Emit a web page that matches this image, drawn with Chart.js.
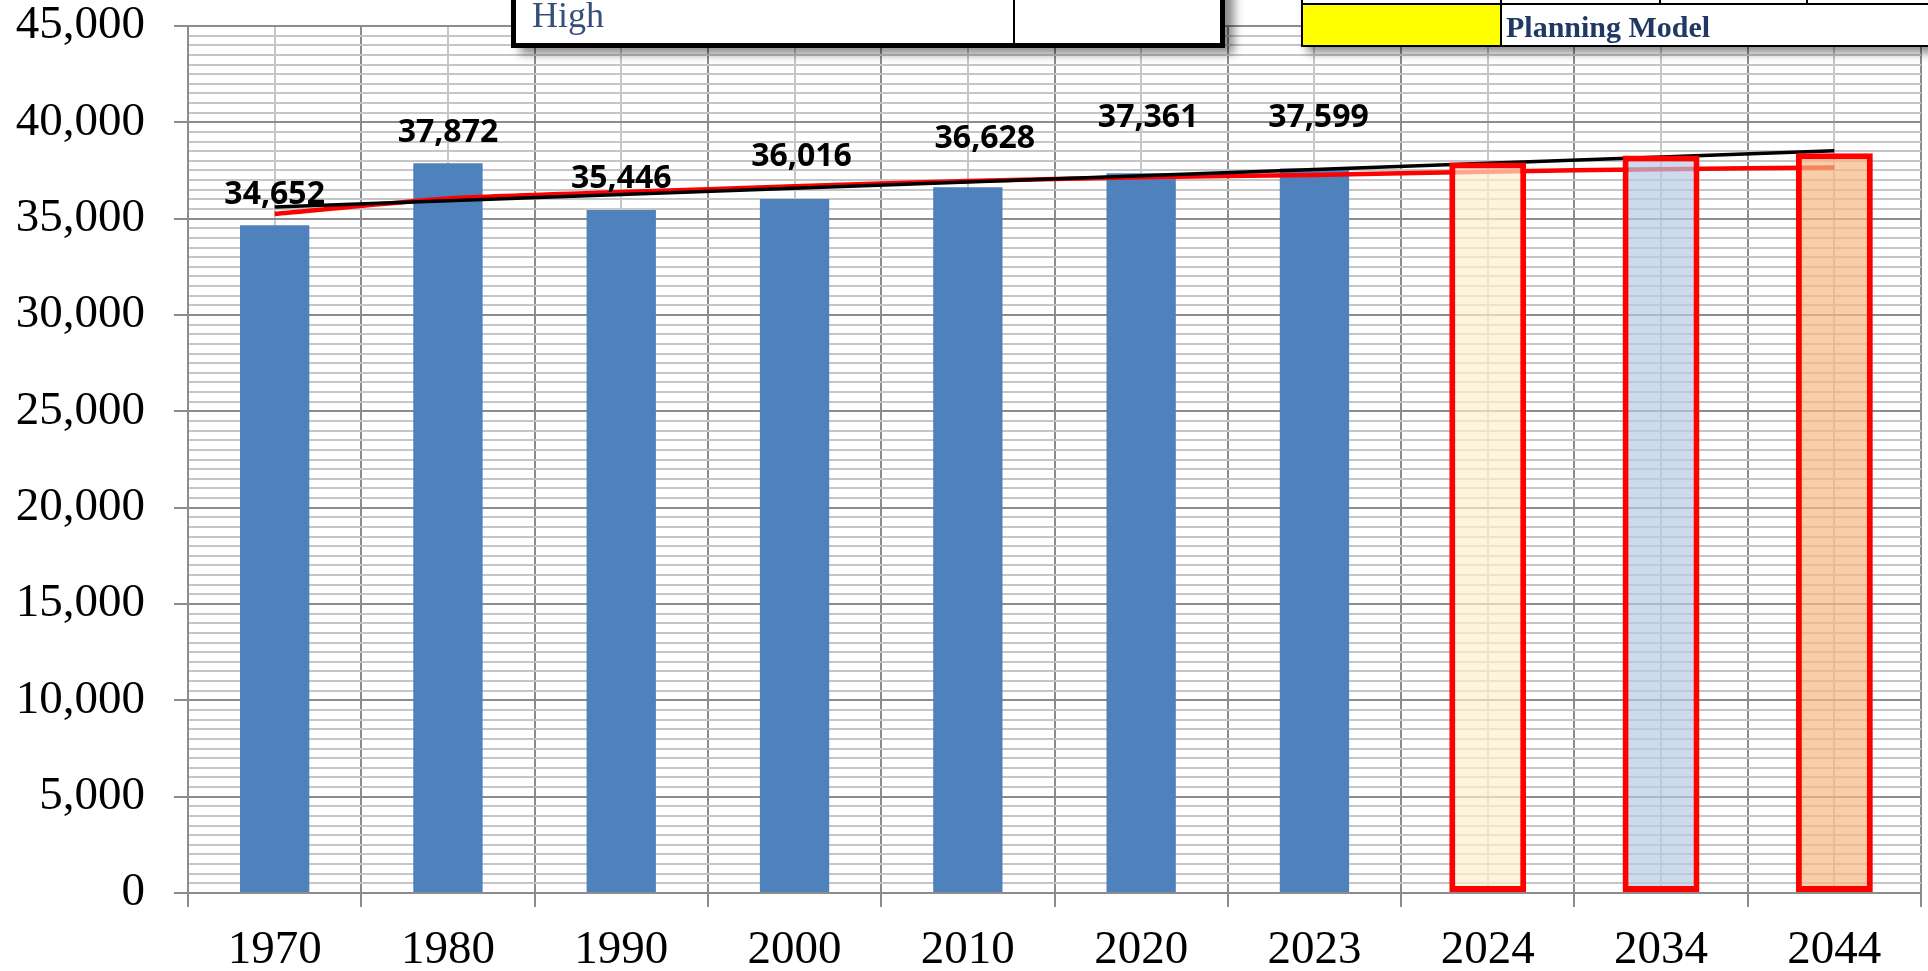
<!DOCTYPE html>
<html>
<head>
<meta charset="utf-8">
<title>Population and projections</title>
<script src="https://cdn.jsdelivr.net/npm/chart.js@4.4.1/dist/chart.umd.min.js"></script>
<style>
  html, body { margin: 0; padding: 0; background: #fff; overflow: hidden; }
  #wrap { position: relative; width: 1928px; height: 971px; }
  #chart { position: absolute; left: 0; top: 0; }
  .box { position: absolute; background: #fff; box-sizing: border-box; }
  .line { position: absolute; background: #000; }

  /* scenario box (top middle) */
  #boxHigh { left: 511px; top: -20px; width: 714px; height: 68px; border: 5px solid #000;
             box-shadow: 9px 6px 9px rgba(0,0,0,0.45); }
  #boxHigh .txt { position: absolute; left: 16px; top: 12px; font: 36px/36px "Liberation Serif", serif; color: #34507a; }

  /* key box (top right) */
  #boxKey { left: 1301px; top: -30px; width: 700px; height: 77px; border: 2px solid #000;
            box-shadow: 6px 6px 9px rgba(0,0,0,0.45); }
  #boxKey .swatch { position: absolute; left: 0; top: 33px; width: 197px; height: 40px; background: #ffff00; }
  #boxKey .txt { position: absolute; left: 203px; top: 40px; font: bold 30px/30px "Liberation Serif", serif; color: #1f3864; }
</style>
</head>
<body>
<div id="wrap">
  <canvas id="chart" width="1928" height="971"></canvas>

  <div class="box" id="boxHigh">
    <div class="line" style="left:497px; top:0; bottom:0; width:2px;"></div>
    <div class="txt">High</div>
  </div>

  <div class="box" id="boxKey">
    <div class="line" style="left:0; right:0; top:31px; height:2px;"></div>
    <div class="line" style="left:356px; top:0; height:31px; width:2px;"></div>
    <div class="line" style="left:503px; top:0; height:31px; width:2px;"></div>
    <div class="swatch"></div>
    <div class="line" style="left:197px; top:0; bottom:0; width:2px;"></div>
    <div class="txt">Planning Model</div>
  </div>
</div>

<script>
// categories
const years = ['1970', '1980', '1990', '2000', '2010', '2020', '2023', '2024', '2034', '2044'];

// census counts (labelled blue bars)
const censusPop = [34652, 37872, 35446, 36016, 36628, 37361, 37599, null, null, null];

// projected values (outlined bars)
const projectedPop = [null, null, null, null, null, null, null, 37920, 38280, 38400];

// trend lines
const linearTrend = [35600, 35925, 36250, 36575, 36900, 37225, 37550, 37875, 38200, 38525];
const logTrend = [35250, 36050, 36380, 36680, 36960, 37150, 37270, 37440, 37570, 37660];

const serif = '"Liberation Serif", "Times New Roman", serif';
const majorGrid = '#8c8c8c';
const minorGrid = '#c6c6c6';
const fmt = v => new Intl.NumberFormat('en-US').format(v);

// value labels over the census bars (nudged like in the original sheet)
const barLabels = {
    id: 'barLabels',
    afterDatasetsDraw(chart, args, opts) {
        const meta = chart.getDatasetMeta(0);
        const ctx = chart.ctx;
        ctx.save();
        ctx.font = opts.font;
        ctx.fillStyle = '#000';
        ctx.textAlign = 'center';
        ctx.textBaseline = 'alphabetic';
        meta.data.forEach((bar, i) => {
            const v = censusPop[i];
            if (v == null) return;
            const s = opts.shift[i] || [0, 21];
            ctx.fillText(fmt(v), bar.x + s[0], bar.y - s[1]);
        });
        ctx.restore();
    }
};

new Chart(document.getElementById('chart'), {
    data: {
        labels: years,
        datasets: [
            {
                type: 'bar', label: 'Census', data: censusPop,
                backgroundColor: '#4f81bd', grouped: false,
                barPercentage: 0.4, categoryPercentage: 1, order: 3
            },
            {
                type: 'line', label: 'Linear trend', data: linearTrend,
                borderColor: '#000', borderWidth: 3.5, pointRadius: 0, tension: 0, order: 1
            },
            {
                type: 'line', label: 'Log trend', data: logTrend,
                borderColor: '#ff0000', borderWidth: 4.5, pointRadius: 0, tension: 0.2, order: 2
            },
            {
                type: 'bar', label: 'Projection', data: projectedPop,
                backgroundColor: ['transparent', 'transparent', 'transparent', 'transparent', 'transparent', 'transparent', 'transparent',
                    'rgba(254,238,204,0.7)', 'rgba(183,203,227,0.7)', 'rgba(247,184,129,0.7)'],
                borderColor: '#ff0000', borderWidth: 6, borderSkipped: false,
                grouped: false, barPercentage: 0.444, categoryPercentage: 1, order: 0
            }
        ]
    },
    options: {
        responsive: false,
        animation: false,
        devicePixelRatio: 1,
        layout: { padding: { top: 26, right: 7, left: 0, bottom: 0 } },
        plugins: {
            legend: { display: false },
            tooltip: { enabled: false },
            barLabels: {
                font: 'bold 32px "Open Sans", "DejaVu Sans", sans-serif',
                shift: [[0, 21], [0, 21], [0, 22], [7, 33], [17, 39], [7, 46], [4, 42]]
            }
        },
        scales: {
            x: {
                type: 'category', offset: true,
                grid: { offset: true, color: majorGrid, lineWidth: 2, tickLength: 14, tickColor: majorGrid },
                border: { color: majorGrid, width: 2 },
                ticks: { color: '#000', font: { family: serif, size: 47, lineHeight: 1 }, padding: 20, maxRotation: 0, autoSkip: false },
                afterFit(s) { s.height = 78; }
            },
            x2: {
                type: 'category', labels: years, offset: true, position: 'top',
                grid: { offset: false, color: minorGrid, lineWidth: 2, drawTicks: false },
                border: { display: false },
                ticks: { display: false },
                afterFit(s) { s.height = 0; }
            },
            y: {
                min: 0, max: 45000,
                ticks: {
                    stepSize: 500, autoSkip: false, color: '#000', padding: 29,
                    font: { family: serif, size: 47, lineHeight: 1 },
                    callback: v => v % 5000 === 0 ? fmt(v) : ''
                },
                grid: {
                    lineWidth: 2, tickLength: 14,
                    color: c => c.tick && c.tick.value % 5000 === 0 ? majorGrid : minorGrid,
                    tickColor: c => c.tick && c.tick.value % 5000 === 0 ? majorGrid : 'rgba(0,0,0,0)'
                },
                border: { color: majorGrid, width: 2 },
                // fixed axis width; the top label may run up to the canvas edge like in the original
                afterFit(s) { s.width = 188; s.paddingTop = 0; s.paddingBottom = 0; }
            }
        }
    },
    plugins: [barLabels]
});
</script>
</body>
</html>
